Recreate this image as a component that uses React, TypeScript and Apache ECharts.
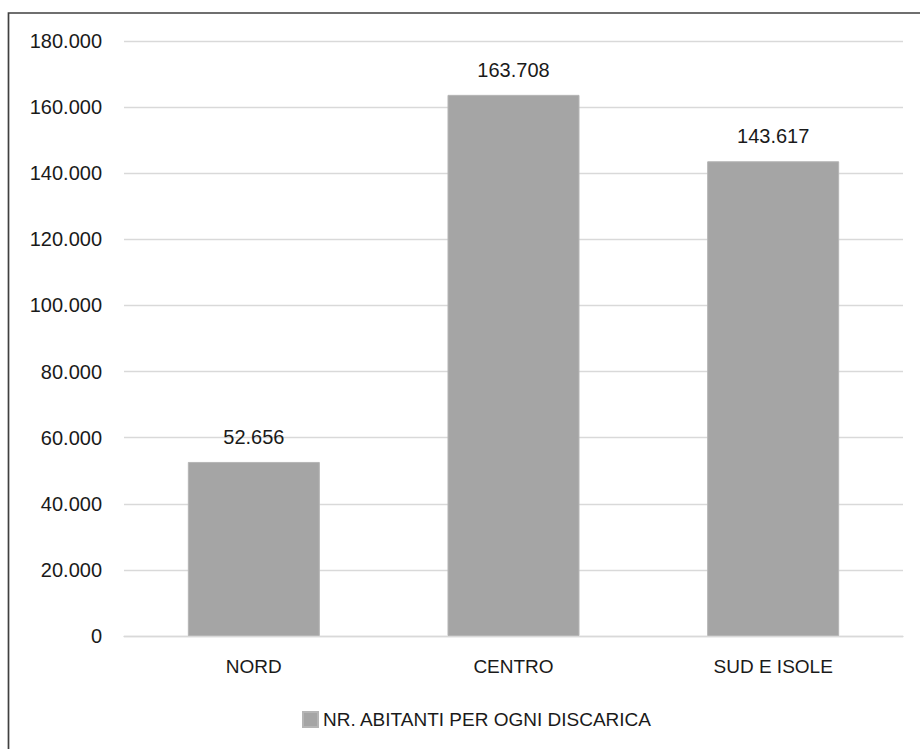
import React, { useEffect, useRef } from "react";
import * as echarts from "echarts";

// Inhabitants served by each landfill, by macro-area
const categories = ["NORD", "CENTRO", "SUD E ISOLE"];
const abitantiPerDiscarica = [52656, 163708, 143617];
const seriesName = "NR. ABITANTI PER OGNI DISCARICA";
const yMax = 180000;
const yStep = 20000;

const FONT = "'Liberation Sans', Arial, sans-serif";
const TEXT = "#1a1a1a";

// Italian thousands separator: 163708 -> "163.708"
const fmt = (v: number) => String(Math.round(v)).replace(/\B(?=(\d{3})+(?!\d))/g, ".");

export default function App() {
  const ref = useRef<HTMLDivElement>(null);

  useEffect(() => {
    if (!ref.current) return;
    const chart = echarts.init(ref.current, undefined, { renderer: "svg" });
    chart.setOption({
      animation: false,
      backgroundColor: "#ffffff",
      textStyle: { fontFamily: FONT, color: TEXT },
      grid: { left: 124, right: 17, top: 41, bottom: 113, containLabel: false },
      graphic: [
        {
          type: "rect",
          shape: { x: 8.5, y: 13, width: 2000, height: 2000 },
          style: { fill: "none", stroke: "#404040", lineWidth: 1.7 },
          silent: true,
        },
      ],
      legend: {
        data: [seriesName],
        left: 297,
        top: 705,
        itemWidth: 15,
        itemHeight: 15,
        itemGap: 5,
        icon: "rect",
        textStyle: { fontFamily: FONT, fontSize: 19, color: TEXT, padding: [0, 0, 0, 0] },
      },
      xAxis: {
        type: "category",
        data: categories,
        axisTick: { show: false },
        axisLine: { show: true, lineStyle: { color: "#d9d9d9", width: 1.3 } },
        axisLabel: { fontFamily: FONT, fontSize: 19, color: TEXT, margin: 21 },
      },
      yAxis: {
        type: "value",
        min: 0,
        max: yMax,
        interval: yStep,
        axisLine: { show: false },
        axisTick: { show: false },
        splitLine: { lineStyle: { color: "#d9d9d9", width: 1.3 } },
        axisLabel: {
          fontFamily: FONT,
          fontSize: 20,
          color: TEXT,
          margin: 22,
          formatter: (v: number) => fmt(v),
        },
      },
      series: [
        {
          name: seriesName,
          type: "bar",
          data: abitantiPerDiscarica,
          barWidth: 132,
          itemStyle: { color: "#a5a5a5", borderColor: "#b5b5b5", borderWidth: 1 },
          label: {
            show: true,
            position: "top",
            distance: 15,
            fontFamily: FONT,
            fontSize: 20,
            color: TEXT,
            formatter: (p: any) => fmt(p.value),
          },
        },
      ],
    });
    return () => chart.dispose();
  }, []);

  return (
    <div
      ref={ref}
      style={{ position: "absolute", left: 0, top: 0, width: 920, height: 749 }}
    />
  );
}
